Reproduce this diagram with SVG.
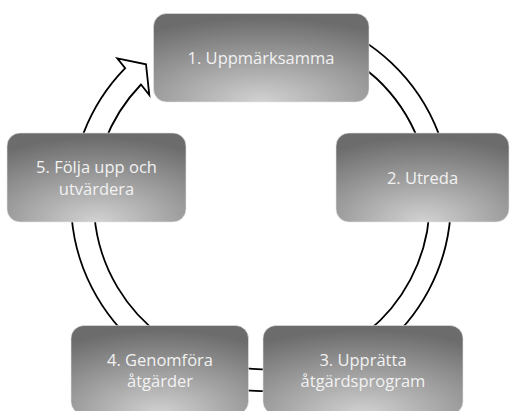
<svg xmlns="http://www.w3.org/2000/svg" width="511" height="411" viewBox="0 0 511 411">
  <defs>
    <radialGradient id="boxFill" cx="0.5" cy="1" r="0.95" fx="0.5" fy="1">
      <stop offset="0" stop-color="#d2d2d2"/>
      <stop offset="0.55" stop-color="#9a9a9a"/>
      <stop offset="1" stop-color="#6c6c6c"/>
    </radialGradient>
  </defs>
  <style>
    .box { fill: url(#boxFill); stroke: #e6e6e6; stroke-width: 0.6; }
    .label { font-family: "Open Sans", "Noto Sans", sans-serif; font-size: 16.5px; fill: #f2f2f2; text-anchor: middle; }
    .ring { fill: #ffffff; stroke: #000000; stroke-width: 1.8; stroke-linejoin: miter; }
  </style>
  <rect width="511" height="411" fill="#ffffff"/>
  <g id="connectors">
    <path class="ring" d="M 326,22.5 A 190 190 0 1 1 125.2,68.1 L 117.3,58.3 L 146,64.3 L 149.3,95 L 141,84.5 A 168 168 0 1 0 318.5,43.1 Z"/>
  </g>
  <g id="node1">
    <rect class="box" x="153.5" y="13.5" width="215.5" height="88.5" rx="13"/>
    <text class="label" x="261" y="63.5">1. Uppmärksamma</text>
  </g>
  <g id="node2">
    <rect class="box" x="336" y="133" width="173" height="89" rx="13"/>
    <text class="label" x="422.5" y="183.5">2. Utreda</text>
  </g>
  <g id="node3">
    <rect class="box" x="263" y="325.5" width="200" height="89" rx="13"/>
    <text class="label" x="363" y="365.5">3. Upprätta</text>
    <text class="label" x="363" y="387">åtgärdsprogram</text>
  </g>
  <g id="node4">
    <rect class="box" x="71" y="325.5" width="177.5" height="89" rx="13"/>
    <text class="label" x="160" y="365.5">4. Genomföra</text>
    <text class="label" x="160" y="387">åtgärder</text>
  </g>
  <g id="node5">
    <rect class="box" x="7" y="133" width="179" height="89" rx="13"/>
    <text class="label" x="96.5" y="173">5. Följa upp och</text>
    <text class="label" x="96.5" y="194.5">utvärdera</text>
  </g>
</svg>
